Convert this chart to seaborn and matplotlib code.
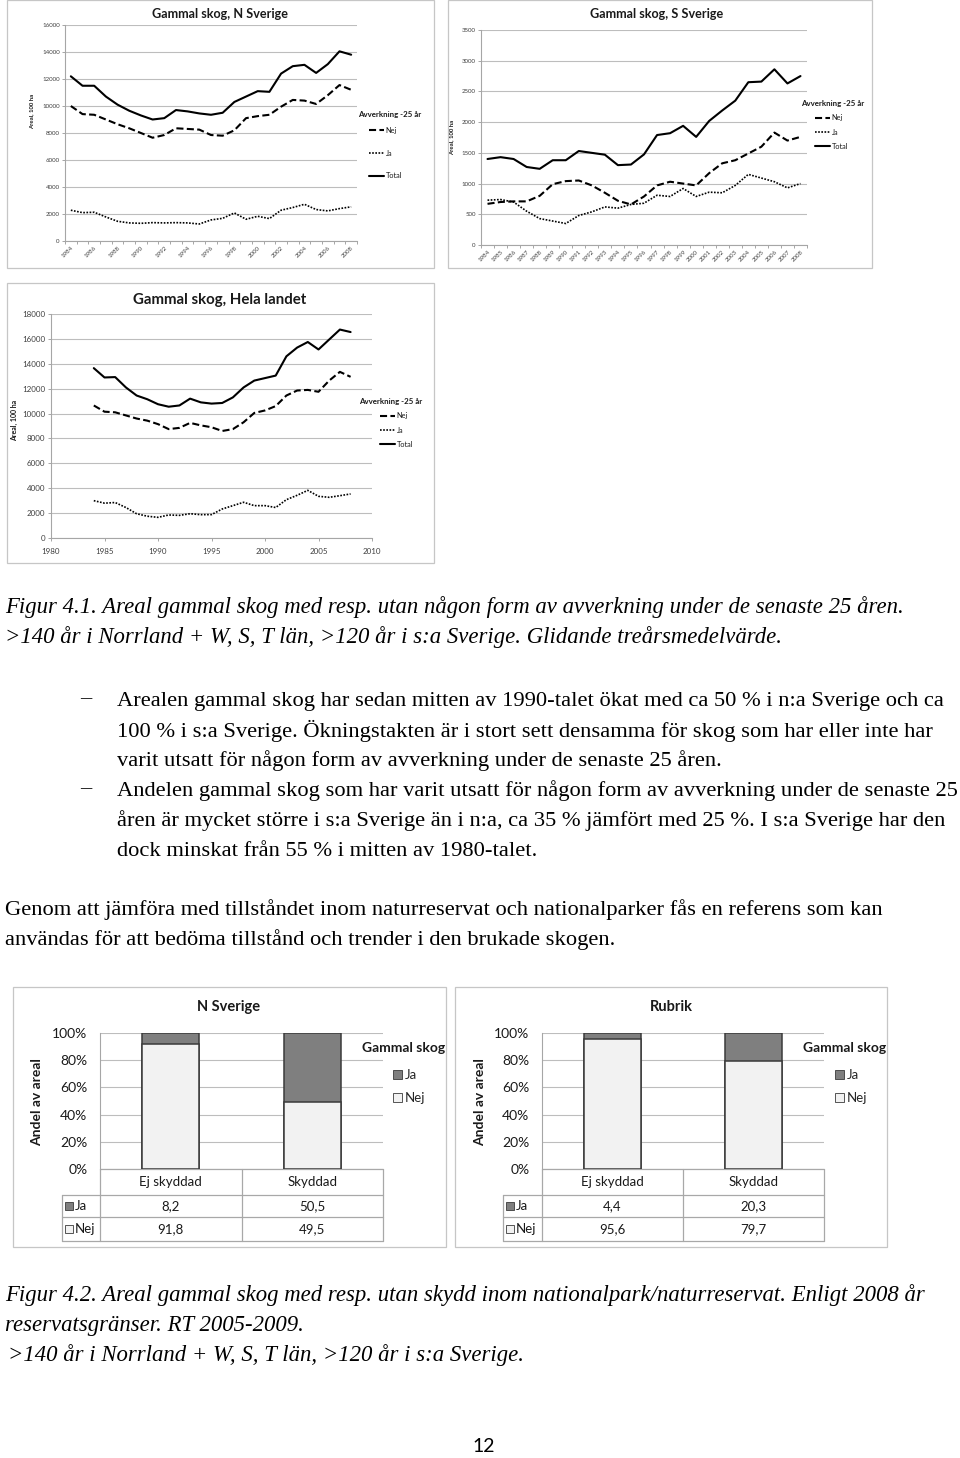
import numpy as np
import pandas as pd
import seaborn as sns
import matplotlib
matplotlib.use("Agg")
import matplotlib.pyplot as plt
from matplotlib.patches import Rectangle, Patch
from matplotlib.lines import Line2D
from matplotlib.ticker import PercentFormatter

sns.set_theme(style="white")
plt.rcParams["font.family"] = ["Lato", "DejaVu Sans"]

# ---------------- data ----------------
years = list(range(1984, 2009))

n_total = [12200, 11500, 11500, 10700, 10100, 9650, 9300, 9000, 9100, 9700, 9600, 9450, 9350,
           9500, 10300, 10700, 11100, 11050, 12400, 12950, 13050, 12450, 13100, 14050, 13800]
n_nej = [10000, 9400, 9350, 9000, 8650, 8350, 8000, 7650, 7850, 8350, 8300, 8250, 7850,
         7800, 8200, 9100, 9250, 9350, 9950, 10450, 10400, 10150, 10800, 11550, 11200]
n_ja = [2280, 2100, 2130, 1780, 1460, 1340, 1310, 1360, 1340, 1360, 1340, 1260, 1560,
        1680, 2080, 1610, 1830, 1660, 2280, 2480, 2720, 2330, 2230, 2400, 2530]

s_total = [1400, 1430, 1400, 1270, 1240, 1380, 1380, 1530, 1500, 1470, 1300, 1310, 1475,
           1790, 1820, 1940, 1760, 2020, 2190, 2350, 2650, 2660, 2860, 2630, 2750]
s_nej = [670, 700, 710, 710, 800, 990, 1040, 1050, 970, 850, 720, 660, 790,
         970, 1030, 1000, 970, 1170, 1330, 1380, 1490, 1600, 1830, 1700, 1760]
s_ja = [730, 740, 700, 550, 430, 390, 350, 480, 540, 620, 600, 660, 680,
        810, 790, 920, 790, 860, 850, 970, 1150, 1090, 1030, 930, 1000]

h_total = [13650, 12900, 12930, 12100, 11450, 11150, 10750, 10550, 10650, 11200, 10900, 10800, 10850,
           11300, 12100, 12650, 12850, 13050, 14600, 15300, 15750, 15150, 15950, 16750, 16550]
h_nej = [10650, 10150, 10100, 9850, 9600, 9430, 9150, 8750, 8850, 9250, 9050, 8900, 8600,
         8750, 9300, 10050, 10250, 10600, 11450, 11850, 11900, 11750, 12650, 13350, 12950]
h_ja = [3000, 2800, 2850, 2450, 1950, 1750, 1660, 1850, 1820, 1950, 1875, 1880, 2330,
        2600, 2870, 2600, 2600, 2450, 3080, 3430, 3830, 3350, 3270, 3400, 3540]

bar_cats = ["Ej skyddad", "Skyddad"]
bn_ja = [8.2, 50.5]
bn_nej = [91.8, 49.5]
bs_ja = [4.4, 20.3]
bs_nej = [95.6, 79.7]

series_names = ["Nej", "Ja", "Total"]

# ---------------- page ----------------
W, H = 960, 1458
fig = plt.figure(figsize=(W / 100, H / 100), dpi=100)
fig.patch.set_facecolor("white")
page = fig.add_axes([0, 0, 1, 1])
page.set_xlim(0, W)
page.set_ylim(H, 0)
page.axis("off")


def px_axes(l, t, r, b):
    ax = fig.add_axes([l / W, 1 - b / H, (r - l) / W, (b - t) / H])
    ax.set_facecolor("none")
    return ax


def box(l, t, r, b):
    page.add_patch(Rectangle((l, t), r - l, b - t, fill=False, ec="#c6c6c6", lw=0.9))


GRID = "#bdbdbd"
AXC = "#a6a6a6"
TXT = "#404040"
DARK = "#1a1a1a"

styles = {
    "Nej": dict(linestyle=(0, (3.4, 1.6)), lw=1.5),
    "Ja": dict(linestyle=(0, (1, 0.9)), lw=1.2),
    "Total": dict(linestyle="-", lw=1.5),
}


def line_chart(boxr, axr, title, tpos, tsize, nej, ja, total, ymax, ystep,
               xmode, tick_fs, ylab_pos, ylab_fs, leg_title_pos, leg_pos, leg_space, leg_fs):
    box(*boxr)
    ax = px_axes(*axr)
    df = pd.DataFrame({
        "year": years * 3,
        "value": nej + ja + total,
        "series": ["Nej"] * len(years) + ["Ja"] * len(years) + ["Total"] * len(years),
    })
    for s in series_names:
        sns.lineplot(data=df[df["series"] == s], x="year", y="value", color="black",
                     ax=ax, legend=False, **styles[s])
    ax.set_ylim(0, ymax)
    ax.set_yticks(np.arange(0, ymax + 1, ystep))
    ax.yaxis.grid(True, color=GRID, lw=0.8)
    ax.set_axisbelow(True)
    for sp in ["top", "right"]:
        ax.spines[sp].set_visible(False)
    for sp in ["left", "bottom"]:
        ax.spines[sp].set_color(AXC)
        ax.spines[sp].set_linewidth(0.8)
    ax.set_xlabel("")
    ax.set_ylabel("")
    if xmode in ("cat2", "cat1"):
        ax.set_xlim(years[0] - 0.5, years[-1] + 0.5)
        step = 2 if xmode == "cat2" else 1
        ax.set_xticks(years[::step])
        ax.set_xticklabels([str(y) for y in years[::step]], rotation=45, ha="right",
                           rotation_mode="anchor", fontsize=tick_fs, color=TXT)
        ax.set_xticks(np.arange(years[0] - 0.5, years[-1] + 0.51, 1), minor=True)
        ax.tick_params(axis="x", which="major", length=0, pad=3)
        ax.tick_params(axis="x", which="minor", length=2.2, color=AXC, width=0.7, bottom=True)
        ax.tick_params(axis="y", length=2.2, color=AXC, width=0.7, left=True,
                       labelsize=tick_fs, labelcolor=TXT, pad=1.5)
    else:
        ax.set_xlim(1980, 2010)
        ax.set_xticks(range(1980, 2011, 5))
        ax.tick_params(axis="x", length=2.2, color=AXC, width=0.7, bottom=True,
                       labelsize=tick_fs, labelcolor=TXT, pad=5)
        ax.tick_params(axis="y", length=2.2, color=AXC, width=0.7, left=True,
                       labelsize=tick_fs, labelcolor=TXT, pad=2)
    page.text(tpos[0], tpos[1], title, ha="center", va="center", fontsize=tsize,
              fontweight="bold", color=DARK)
    page.text(ylab_pos[0], ylab_pos[1], "Areal, 100 ha", rotation=90, ha="center",
              va="center", fontsize=ylab_fs, fontweight="bold", color=DARK)
    # legend
    page.text(leg_title_pos[0], leg_title_pos[1], "Avverkning -25 år", ha="left", va="center",
              fontsize=leg_fs + 0.4, fontweight="bold", color=DARK)
    handles = [Line2D([], [], color="black", **styles[s]) for s in series_names]
    fsz_px = leg_fs * 100 / 72
    leg = ax.legend(handles, series_names, loc="center left",
                    bbox_to_anchor=leg_pos, bbox_transform=page.transData,
                    frameon=False, fontsize=leg_fs, handlelength=2.0, handletextpad=0.25,
                    labelspacing=(leg_space - fsz_px) / fsz_px, borderpad=0,
                    borderaxespad=0)
    for t in leg.get_texts():
        t.set_color(DARK)
    return ax


line_chart((7, 0, 434, 268), (65, 25, 357, 241), "Gammal skog, N Sverige", (220, 14), 9.1,
           n_nej, n_ja, n_total, 16000, 2000, "cat2", 4.4, (32, 111), 4.3,
           (358, 114), (369, 153), 23, 5.3)
line_chart((448, 0, 872, 268), (481, 30, 807, 245), "Gammal skog, S Sverige", (657, 14), 9.1,
           s_nej, s_ja, s_total, 3500, 500, "cat1", 4.4, (452, 137), 4.3,
           (801, 103), (815, 132), 14.5, 5.3)
line_chart((7, 283, 434, 563), (51, 314, 372, 538), "Gammal skog, Hela landet", (220, 300), 10.8,
           h_nej, h_ja, h_total, 18000, 2000, "num", 5.8, (14, 420), 5.0,
           (359, 401), (380, 430), 14.5, 5.3)

# ---------------- bar charts ----------------
JA_C = "#7f7f7f"
NEJ_C = "#f2f2f2"
EDGE = "#3a3a3a"
TBL = "#a8a8a8"


def bar_chart(boxr, axr, title, tpos, ja, nej, hdr_left, ylab_x, leg_title_x, leg_x):
    box(*boxr)
    l, t, r, b = axr
    ax = px_axes(l, t, r, b)
    tot = [(a + c) / 100 for a, c in zip(ja, nej)]
    sns.barplot(x=bar_cats, y=tot, color=JA_C, saturation=1, width=0.4,
                edgecolor=EDGE, linewidth=1.1, ax=ax)
    sns.barplot(x=bar_cats, y=[v / 100 for v in nej], color=NEJ_C, saturation=1, width=0.4,
                edgecolor=EDGE, linewidth=1.1, ax=ax)
    ax.set_xlim(-0.5, 1.5)
    ax.set_ylim(0, 1)
    ax.set_yticks(np.arange(0, 1.01, 0.2))
    ax.yaxis.set_major_formatter(PercentFormatter(1.0, decimals=0))
    ax.yaxis.grid(True, color=GRID, lw=0.8)
    ax.set_axisbelow(True)
    ax.set_xticks([])
    ax.set_xlabel("")
    ax.set_ylabel("")
    for sp in ["top", "right", "bottom"]:
        ax.spines[sp].set_visible(False)
    ax.spines["left"].set_color(AXC)
    ax.spines["left"].set_linewidth(0.8)
    ax.tick_params(axis="y", length=0, pad=9, labelsize=10, labelcolor=DARK)
    page.text(tpos[0], tpos[1], title, ha="center", va="center", fontsize=10.5,
              fontweight="bold", color=DARK)
    page.text(ylab_x, 1102, "Andel av areal", rotation=90, ha="center",
              va="center", fontsize=10, fontweight="bold", color=DARK)
    # legend
    page.text(leg_title_x, 1048, "Gammal skog", ha="left", va="center", fontsize=10,
              fontweight="bold", color=DARK)
    handles = [Patch(fc=JA_C, ec=EDGE, lw=0.6), Patch(fc=NEJ_C, ec=EDGE, lw=0.6)]
    ax.legend(handles, ["Ja", "Nej"], loc="center left",
              bbox_to_anchor=(leg_x, 1086.5), bbox_transform=page.transData, frameon=False,
              fontsize=9.5, handlelength=0.65, handleheight=0.65, handletextpad=0.25,
              labelspacing=0.85, borderpad=0, borderaxespad=0)
    # data table
    mid = (l + r) / 2
    rows = [b, b + 26, b + 48, b + 72]
    for y in rows[1:]:
        page.plot([hdr_left, r], [y, y], color=TBL, lw=0.9)
    page.plot([l, r], [rows[0], rows[0]], color=TBL, lw=0.9)
    for x in [l, mid, r]:
        page.plot([x, x], [rows[0], rows[3]], color=TBL, lw=0.9)
    page.plot([hdr_left, hdr_left], [rows[1], rows[3]], color=TBL, lw=0.9)
    cx = [l + (r - l) / 4, l + 3 * (r - l) / 4]
    for i, c in enumerate(bar_cats):
        page.text(cx[i], (rows[0] + rows[1]) / 2, c, ha="center", va="center",
                  fontsize=9.5, color=DARK)
    for j, (lab, vals, col) in enumerate([("Ja", ja, JA_C), ("Nej", nej, NEJ_C)]):
        yc = (rows[1 + j] + rows[2 + j]) / 2
        page.add_patch(Rectangle((hdr_left + 3, yc - 4), 8, 8, fc=col, ec=EDGE, lw=0.6))
        page.text(hdr_left + 13, yc, lab, ha="left", va="center", fontsize=9.5, color=DARK)
        for i in range(2):
            page.text(cx[i], yc, f"{vals[i]:.1f}".replace(".", ","), ha="center",
                      va="center", fontsize=9.5, color=DARK)
    return ax


bar_chart((13, 987, 446, 1247), (100, 1033, 383, 1169), "N Sverige", (229, 1007),
          bn_ja, bn_nej, 62, 37, 362, 393)
bar_chart((455, 987, 887, 1247), (542, 1033, 824, 1169), "Rubrik", (671, 1007),
          bs_ja, bs_nej, 503, 480, 803, 835)

# ---------------- document text ----------------
SERIF = ["Liberation Serif", "DejaVu Serif"]
FS = 16.2
cap = dict(fontsize=16.4, family=SERIF, style="italic", color="black", va="center", ha="left")
body = dict(fontsize=FS, family=SERIF, color="black", va="center", ha="left")

page.text(5, 607, "Figur 4.1. Areal gammal skog med resp. utan någon form av avverkning under de senaste 25 åren.", **cap)
page.text(5, 637, ">140 år i Norrland + W, S, T län, >120 år i s:a Sverige. Glidande treårsmedelvärde.", **cap)

bullet_lines = [
    "Arealen gammal skog har sedan mitten av 1990-talet ökat med ca 50 % i n:a Sverige och ca",
    "100 % i s:a Sverige. Ökningstakten är i stort sett densamma för skog som har eller inte har",
    "varit utsatt för någon form av avverkning under de senaste 25 åren.",
    "Andelen gammal skog som har varit utsatt för någon form av avverkning under de senaste 25",
    "åren är mycket större i s:a Sverige än i n:a, ca 35 % jämfört med 25 %. I s:a Sverige har den",
    "dock minskat från 55 % i mitten av 1980-talet.",
]
for i, s in enumerate(bullet_lines):
    page.text(117, 701 + 30 * i, s, **body)
page.text(80, 699, "–", **body)
page.text(80, 789, "–", **body)

page.text(5, 910, "Genom att jämföra med tillståndet inom naturreservat och nationalparker fås en referens som kan", **body)
page.text(5, 940, "användas för att bedöma tillstånd och trender i den brukade skogen.", **body)

page.text(5, 1295, "Figur 4.2. Areal gammal skog med resp. utan skydd inom nationalpark/naturreservat. Enligt 2008 år", **cap)
page.text(5, 1325, "reservatsgränser. RT 2005-2009.", **cap)
page.text(8, 1355, ">140 år i Norrland + W, S, T län, >120 år i s:a Sverige.", **cap)

page.text(484, 1447, "12", ha="center", va="center", fontsize=14, color="black")

fig.savefig("out.png", dpi=100, facecolor="white")
